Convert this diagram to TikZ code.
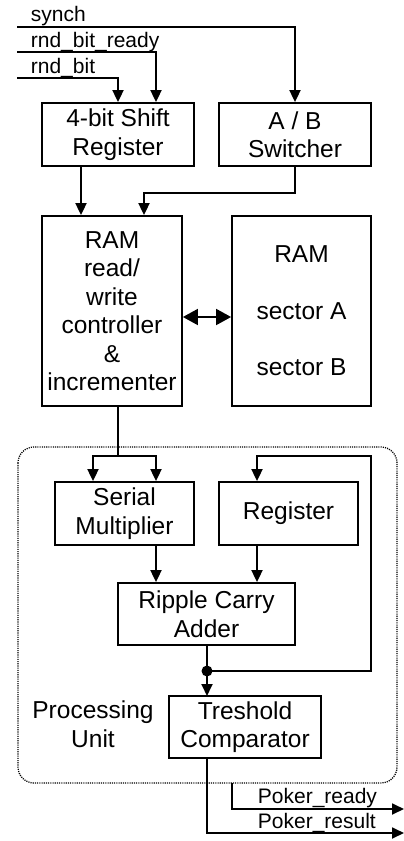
\documentclass[tikz,border=0pt]{standalone}
\usepackage{fontspec}
\setmainfont{Liberation Sans}
\usetikzlibrary{arrows.meta}
\begin{document}
\begin{tikzpicture}[x=1pt,y=-1pt,
  line width=1.8pt,
  block/.style={draw,rectangle,align=center,inner sep=0pt,
    font=\fontsize{24.5}{28.5}\selectfont},
  sig/.style={font=\fontsize{21}{24}\selectfont,anchor=base west,inner sep=0pt},
  arr/.style={-{Triangle[length=12pt,width=11pt]}},
  darr/.style={{Triangle[length=15pt,width=16pt]}-{Triangle[length=15pt,width=16pt]}},
  unitframe/.style={draw,line width=1.3pt,dash pattern=on 1.1pt off 1.1pt,rounded corners=16pt}]
\useasboundingbox (0,0) rectangle (404,841);

% processing unit frame
\draw[unitframe] (18,447) rectangle (397,783);

% blocks
\node[block,minimum width=152pt,minimum height=63pt] (sr) at (118,134.5) {4-bit Shift\\Register};
\node[block,minimum width=152pt,minimum height=63pt] (ab) at (295,134.5) {A / B\\Switcher};
\node[block,minimum width=140pt,minimum height=190pt] (ctl) at (112,311)
  {RAM\\read/\\write\\controller\\\&\\incrementer};
\node[block,minimum width=139pt,minimum height=190pt] (ram) at (301.5,311)
  {RAM\\[28pt]sector A\\[28pt]sector B};
\node[block,minimum width=139pt,minimum height=63pt] (sm) at (124.5,513.5) {Serial\\Multiplier};
\node[block,minimum width=139pt,minimum height=63pt] (reg) at (288.5,513.5) {Register};
\node[block,minimum width=177pt,minimum height=62pt] (add) at (206.5,614) {Ripple Carry\\Adder};
\node[block,minimum width=152pt,minimum height=62pt] (cmp) at (245,727) {Treshold\\Comparator};
\node[block,draw=none] (pu) at (93,724) {Processing\\Unit};

% input signals
\coordinate (synchin) at (17,27);
\coordinate (readyin) at (17,52);
\coordinate (bitin) at (17,78);
\node[sig] (synchlbl) at (30,21) {synch};
\node[sig] (readylbl) at (30,47) {rnd\_bit\_ready};
\node[sig] (bitlbl) at (30,73) {rnd\_bit};
\draw[arr] (synchin) -| (ab.north);
\draw[arr] (readyin) -| ([xshift=38pt]sr.north);
\draw[arr] (bitin) -| (sr.north);

% into the RAM controller
\draw[arr] ([xshift=-37pt]sr.south) -- ([xshift=-37pt]sr.south |- ctl.north);
\draw[arr] (ab.south) -- ++(0,26) -| ([xshift=32pt]ctl.north);
\draw[darr] ([yshift=-6pt]ctl.east) -- ([yshift=-6pt]ram.west);

% into the processing unit
\coordinate (split) at (118,456);
\draw ([xshift=6pt]ctl.south) -- (split);
\draw[arr] (split) -| ([xshift=-31.5pt]sm.north);
\draw[arr] (split) -| ([xshift=31.5pt]sm.north);
\draw[arr] ([xshift=31.5pt]sm.south) -- ([xshift=31.5pt]sm.south |- add.north);
\draw[arr] ([xshift=-31.5pt]reg.south) -- ([xshift=-31.5pt]reg.south |- add.north);

% adder output and feedback to the register
\coordinate (dot) at (207,671);
\coordinate (fbtop) at (371,456);
\draw (207,645.5) -- (dot);
\draw[arr] (dot) -- (207,696);
\draw[arr] (dot) -| (fbtop) -| ([xshift=-31.5pt]reg.north);
\fill (dot) circle (5.5pt);

% outputs
\coordinate (rdystart) at (232,783);
\coordinate (rdyout) at (404,809);
\coordinate (resout) at (404,833);
\draw[arr] ([xshift=-38pt]cmp.south) |- (resout);
\draw[arr] (rdystart) |- (rdyout);
\node[sig] (rdylbl) at (257,803) {Poker\_ready};
\node[sig] (reslbl) at (257,828) {Poker\_result};
\end{tikzpicture}
\end{document}
